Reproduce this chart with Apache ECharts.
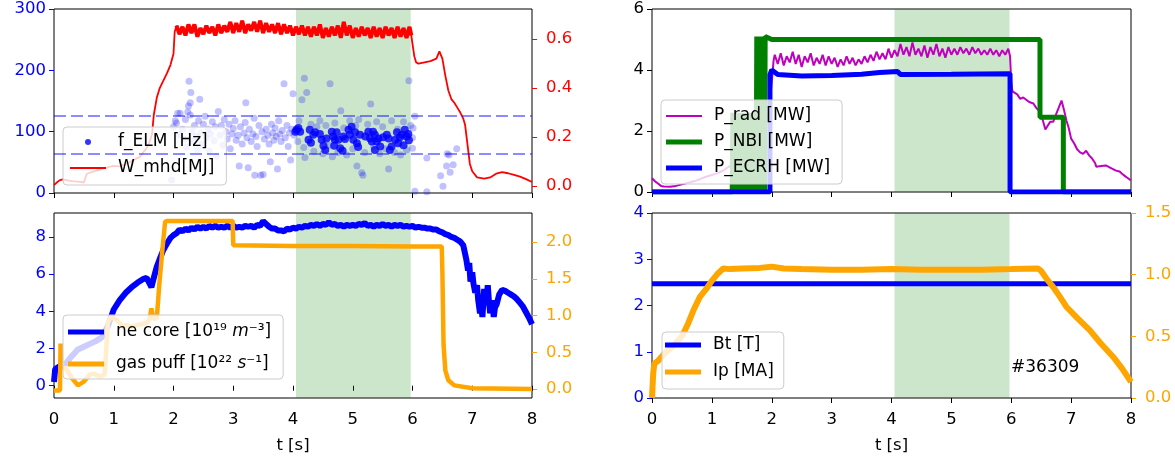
<!DOCTYPE html>
<html><head><meta charset="utf-8">
<script src="https://cdn.jsdelivr.net/npm/echarts@6/dist/echarts.min.js"></script>
<style>html,body{margin:0;padding:0;background:#fff}#c{width:1175px;height:459px}</style>
</head><body><div id="c"></div><script>
// ---------- data ----------
const tTicks = [0,1,2,3,4,5,6,7,8];
const windowSpan = [4.05, 5.97];
const wFlatTop = [2.03, 5.99];
const shotLabel = '#36309';
const tlLeftTicks = [0,100,200,300];
const tlRightTicks = [0,0.2,0.4,0.6];
const blLeftTicks = [0,2,4,6,8];
const blRightTicks = [0,0.5,1,1.5,2];
const trLeftTicks = [0,2,4,6];
const brLeftTicks = [0,1,2,3,4];
const brRightTicks = [0,0.5,1,1.5];
const elmBand = [64, 126];

const felmAll = [[1.97,21],[2.0,108],[2.03,118],[2.05,114],[2.07,130],[2.1,95],[2.11,130],[2.15,104],[2.18,88],[2.2,120],[2.22,75],[2.24,132],[2.25,142],[2.26,182],[2.28,127],[2.28,147],[2.29,164],[2.31,100],[2.33,84],[2.35,110],[2.38,92],[2.4,70],[2.42,118],[2.44,153],[2.46,98],[2.48,80],[2.5,112],[2.53,125],[2.55,90],[2.58,104],[2.6,68],[2.62,96],[2.65,116],[2.68,85],[2.7,108],[2.72,60],[2.75,133],[2.78,94],[2.8,110],[2.83,78],[2.85,120],[2.88,100],[2.9,88],[2.93,112],[2.95,72],[2.98,96],[3.0,105],[3.03,118],[3.05,86],[3.08,94],[3.1,44],[3.12,108],[3.15,80],[3.18,98],[3.2,115],[3.21,147],[3.23,90],[3.25,41],[3.27,104],[3.3,84],[3.33,96],[3.35,122],[3.36,29],[3.38,92],[3.4,76],[3.43,110],[3.46,29],[3.48,100],[3.5,30],[3.52,88],[3.55,104],[3.58,94],[3.6,80],[3.62,51],[3.64,112],[3.66,98],[3.68,86],[3.7,106],[3.72,92],[3.74,39],[3.76,118],[3.78,96],[3.8,84],[3.82,102],[3.85,178],[3.87,90],[3.9,110],[3.92,76],[3.94,98],[3.96,54],[3.98,104],[4.0,162],[4.02,94],[4.08,84],[4.1,118],[4.15,152],[4.18,74],[4.19,187],[4.2,58],[4.23,164],[4.3,112],[4.35,68],[4.4,108],[4.45,118],[4.5,64],[4.55,110],[4.6,78],[4.62,178],[4.66,59],[4.7,114],[4.75,66],[4.8,134],[4.85,106],[4.9,62],[4.95,118],[5.0,72],[5.05,110],[5.07,44],[5.1,120],[5.15,33],[5.17,29],[5.2,66],[5.25,112],[5.3,145],[5.35,76],[5.4,116],[5.45,64],[5.5,108],[5.55,72],[5.6,39],[5.65,118],[5.7,66],[5.75,104],[5.8,62],[5.85,116],[5.9,70],[5.94,183],[5.97,110],[6.0,90],[6.0,73],[6.01,106],[6.04,125],[6.04,3],[6.24,57],[6.24,2],[6.47,28],[6.51,11],[6.57,44],[6.58,64],[6.61,62],[6.63,34],[6.68,46],[6.74,72]];

const felmWindow = [[4.06,103],[4.09,106],[4.04,100],[4.12,100],[4.28,103],[4.34,95],[4.26,87],[4.30,82],[4.37,99],[4.45,96],[4.48,87],[4.51,77],[4.54,70],[4.56,89],[4.65,100],[4.67,92],[4.70,87],[4.69,77],[4.73,99],[4.76,87],[4.79,73],[4.83,69],[4.84,92],[4.87,88],[4.93,103],[4.95,95],[4.98,108],[5.01,87],[5.04,99],[5.07,81],[5.09,75],[5.12,95],[5.21,92],[5.26,100],[5.29,89],[5.32,84],[5.34,100],[5.37,95],[5.37,70],[5.40,84],[5.43,89],[5.46,76],[5.51,91],[5.57,95],[5.60,89],[5.62,70],[5.65,76],[5.71,87],[5.74,99],[5.76,81],[5.79,91],[5.82,95],[5.85,78],[5.87,103],[5.90,92],[5.93,96],[5.94,86]];

const wmhd = [[0,0.004],[0.05,0.015],[0.1,0.024],[0.15,0.027],[0.21,0.024],[0.3,0.02],[0.44,0.017],[0.5,0.014],[0.55,0.05],[0.77,0.068],[0.99,0.082],[1.1,0.08],[1.22,0.092],[1.44,0.12],[1.55,0.155],[1.6,0.18],[1.64,0.21],[1.67,0.29],[1.72,0.36],[1.77,0.4],[1.83,0.43],[1.89,0.46],[1.95,0.495],[2.0,0.54],[2.02,0.63],
[2.05,0.655],[2.10,0.62],[2.15,0.65],[2.20,0.615],[2.25,0.66],[2.30,0.625],[2.35,0.66],[2.40,0.61],[2.45,0.645],[2.50,0.62],[2.55,0.655],[2.60,0.625],[2.65,0.65],[2.70,0.615],[2.75,0.66],[2.80,0.625],[2.85,0.655],[2.90,0.63],[2.95,0.67],[3.00,0.625],[3.05,0.665],[3.10,0.63],[3.15,0.675],[3.20,0.625],[3.25,0.66],[3.30,0.635],[3.35,0.67],[3.40,0.63],[3.45,0.675],[3.50,0.625],[3.55,0.665],[3.60,0.63],[3.65,0.66],[3.70,0.625],[3.75,0.665],[3.80,0.62],[3.85,0.66],[3.90,0.625],[3.95,0.655],[4.00,0.615],[4.05,0.65],[4.10,0.62],[4.15,0.655],[4.20,0.615],[4.25,0.65],[4.30,0.61],[4.35,0.65],[4.40,0.615],[4.45,0.66],[4.50,0.605],[4.55,0.645],[4.60,0.61],[4.65,0.65],[4.70,0.615],[4.75,0.655],[4.80,0.605],[4.85,0.67],[4.90,0.615],[4.95,0.655],[5.00,0.605],[5.05,0.645],[5.10,0.61],[5.15,0.65],[5.20,0.615],[5.25,0.645],[5.30,0.605],[5.35,0.65],[5.40,0.61],[5.45,0.645],[5.50,0.605],[5.55,0.65],[5.60,0.615],[5.65,0.645],[5.70,0.605],[5.75,0.65],[5.80,0.61],[5.85,0.645],[5.90,0.605],[5.95,0.65],[5.98,0.615],
[6.0,0.58],[6.03,0.53],[6.06,0.505],[6.1,0.5],[6.2,0.505],[6.3,0.51],[6.4,0.52],[6.45,0.55],[6.5,0.52],[6.55,0.45],[6.6,0.39],[6.65,0.355],[6.7,0.34],[6.75,0.32],[6.8,0.3],[6.85,0.275],[6.88,0.25],[6.92,0.17],[6.96,0.09],[7.0,0.06],[7.08,0.035],[7.2,0.03],[7.3,0.035],[7.4,0.05],[7.5,0.057],[7.6,0.052],[7.7,0.045],[7.8,0.038],[7.9,0.028],[8.0,0.016]];

const neCore = [[0,0.2],[0.02,0.9],[0.05,1.0],[0.1,1.05],[0.2,1.2],[0.3,1.6],[0.4,1.95],[0.5,2.1],[0.6,2.25],[0.7,2.4],[0.8,2.6],[0.9,3.2],[1.0,4.1],[1.1,4.6],[1.2,5.0],[1.3,5.3],[1.4,5.55],[1.5,5.75],[1.55,5.8],[1.6,5.5],[1.63,5.3],[1.67,5.8],[1.72,6.4],[1.78,6.9],[1.83,7.3],[1.9,7.7],[1.95,7.95],[2.0,8.1],[2.05,8.2],
[2.10,8.4],[2.15,8.3],[2.20,8.45],[2.25,8.35],[2.30,8.5],[2.35,8.4],[2.40,8.55],[2.45,8.45],[2.50,8.55],[2.55,8.45],[2.60,8.6],[2.65,8.5],[2.70,8.6],[2.75,8.5],[2.80,8.55],[2.85,8.5],[2.90,8.6],[2.95,8.5],[3.00,8.6],[3.05,8.5],[3.10,8.55],[3.15,8.5],[3.20,8.6],[3.25,8.55],[3.30,8.6],[3.35,8.5],[3.40,8.65],[3.45,8.6],[3.50,8.85],[3.55,8.7],[3.60,8.55],[3.65,8.45],[3.70,8.45],[3.75,8.35],[3.80,8.35],[3.85,8.3],[3.90,8.45],[3.95,8.4],[4.00,8.5],[4.05,8.45],[4.10,8.55],[4.15,8.5],[4.20,8.6],[4.25,8.55],[4.30,8.65],[4.35,8.6],[4.40,8.7],[4.45,8.6],[4.50,8.7],[4.55,8.65],[4.60,8.8],[4.65,8.65],[4.70,8.7],[4.75,8.6],[4.80,8.65],[4.85,8.55],[4.90,8.65],[4.95,8.6],[5.00,8.65],[5.05,8.6],[5.10,8.7],[5.15,8.65],[5.20,8.75],[5.25,8.6],[5.30,8.65],[5.35,8.55],[5.40,8.65],[5.45,8.6],[5.50,8.7],[5.55,8.6],[5.60,8.65],[5.65,8.55],[5.70,8.65],[5.75,8.6],[5.80,8.65],[5.85,8.55],[5.90,8.6],[5.95,8.55],[6.00,8.6],[6.05,8.5],[6.10,8.55],[6.15,8.5],[6.20,8.5],[6.25,8.45],[6.30,8.45],[6.35,8.4],[6.40,8.4],[6.45,8.3],[6.50,8.25],[6.55,8.15],[6.60,8.1],[6.65,8.0],[6.70,7.95],[6.75,7.85],[6.80,7.75],[6.85,7.55],[6.88,7.6],[6.90,6.8],[6.93,6.2],[6.95,6.6],[6.97,5.6],[7.0,6.1],[7.02,5.5],[7.05,5.0],[7.08,5.4],[7.1,4.6],[7.13,3.9],[7.15,4.3],[7.17,3.7],[7.2,5.2],[7.23,4.4],[7.26,5.4],[7.28,4.5],[7.3,3.9],[7.33,4.6],[7.36,3.7],[7.38,4.2],[7.41,4.4],[7.45,4.9],[7.5,5.15],[7.55,5.1],[7.6,5.0],[7.65,4.9],[7.7,4.8],[7.75,4.65],[7.8,4.45],[7.85,4.25],[7.9,3.95],[7.95,3.65],[8.0,3.3]];

const gasPuff = [[0,-0.02],[0.1,-0.02],[0.11,0.62],[0.12,0.62],[0.13,0.3],[0.2,0.28],[0.3,0.15],[0.4,0.05],[0.5,0.1],[0.6,0.2],[0.66,0.21],[0.77,0.17],[0.85,0.2],[0.9,0.9],[0.95,0.98],[1.05,0.94],[1.15,0.85],[1.22,0.87],[1.3,0.85],[1.44,0.88],[1.55,0.9],[1.6,0.95],[1.63,1.1],[1.66,0.96],[1.72,0.96],[1.76,1.4],[1.82,1.95],[1.86,2.28],[1.9,2.29],[2.5,2.29],[2.99,2.29],[3.0,1.96],[4.0,1.95],[5.0,1.95],[6.0,1.94],[6.49,1.94],[6.5,1.6],[6.52,0.6],[6.55,0.25],[6.6,0.12],[6.7,0.05],[7.0,0.01],[8.0,0.0]];

const pRad = [[0,0.45],[0.05,0.35],[0.1,0.28],[0.15,0.2],[0.2,0.18],[0.3,0.17],[0.4,0.2],[0.5,0.25],[0.6,0.3],[0.7,0.35],[0.8,0.42],[0.9,0.5],[1.0,0.56],[1.1,0.62],[1.2,0.72],[1.3,0.85],[1.4,1.0],[1.5,1.2],[1.6,1.4],[1.7,1.65],[1.8,1.95],[1.9,2.3],[1.95,2.6],[2.0,3.6],[2.03,4.3],
[2.05,4.5],[2.10,4.2],[2.15,4.55],[2.20,4.15],[2.25,4.45],[2.30,4.25],[2.35,4.6],[2.40,4.2],[2.45,4.5],[2.50,4.1],[2.55,4.45],[2.60,4.25],[2.65,4.55],[2.70,4.15],[2.75,4.4],[2.80,4.2],[2.85,4.5],[2.90,4.15],[2.95,4.45],[3.00,4.2],[3.05,4.4],[3.10,4.1],[3.15,4.35],[3.20,4.15],[3.25,4.45],[3.30,4.2],[3.35,4.4],[3.40,4.15],[3.45,4.35],[3.50,4.2],[3.55,4.45],[3.60,4.25],[3.65,4.5],[3.70,4.3],[3.75,4.6],[3.80,4.35],[3.85,4.55],[3.90,4.35],[3.95,4.7],[4.00,4.4],[4.05,4.65],[4.10,4.45],[4.15,4.85],[4.20,4.5],[4.25,4.75],[4.30,4.45],[4.35,4.9],[4.40,4.5],[4.45,4.7],[4.50,4.45],[4.55,4.8],[4.60,4.4],[4.65,4.75],[4.70,4.5],[4.75,4.85],[4.80,4.45],[4.85,4.7],[4.90,4.4],[4.95,4.75],[5.00,4.5],[5.05,4.7],[5.10,4.5],[5.15,4.75],[5.20,4.55],[5.25,4.7],[5.30,4.5],[5.35,4.75],[5.40,4.55],[5.45,4.7],[5.50,4.5],[5.55,4.65],[5.60,4.5],[5.65,4.7],[5.70,4.5],[5.75,4.65],[5.80,4.45],[5.85,4.65],[5.90,4.5],[5.95,4.7],[5.98,4.45],
[6.0,3.6],[6.02,3.3],[6.1,3.2],[6.15,3.05],[6.2,3.1],[6.3,2.95],[6.37,2.9],[6.42,2.75],[6.47,2.65],[6.52,2.4],[6.57,2.05],[6.6,2.15],[6.65,2.3],[6.7,2.3],[6.75,2.55],[6.8,2.8],[6.84,3.0],[6.88,2.7],[6.92,2.35],[6.96,2.1],[7.0,1.75],[7.05,1.6],[7.1,1.4],[7.15,1.3],[7.2,1.25],[7.25,1.35],[7.3,1.2],[7.35,1.1],[7.4,0.95],[7.42,0.83],[7.5,0.85],[7.58,0.87],[7.65,0.8],[7.7,0.75],[7.75,0.7],[7.81,0.67],[7.85,0.6],[7.9,0.52],[7.95,0.45],[8.0,0.38]];

const pNbi = [[0,0],[1.34,0],[1.35,2.6],[1.36,0],[1.37,2.6],[1.38,0],[1.39,2.6],[1.40,0],[1.41,2.6],[1.42,0],[1.43,2.6],[1.44,0],[1.45,2.6],[1.46,0],[1.47,2.6],[1.48,0],[1.49,2.6],[1.50,0],[1.51,2.6],[1.52,0],[1.53,2.6],[1.54,0],[1.55,2.6],[1.56,0],[1.57,2.6],[1.58,0],[1.59,2.6],[1.60,0],[1.61,2.6],[1.62,0],[1.63,2.6],[1.64,0],[1.65,2.6],[1.66,0],[1.67,2.6],[1.68,0],[1.69,2.6],[1.70,0],[1.71,2.6],[1.72,0],[1.73,2.6],[1.74,0],[1.75,5.1],[1.76,0],[1.77,5.1],[1.78,0],[1.79,5.1],[1.80,0],[1.81,5.1],[1.82,0],[1.83,5.1],[1.84,0],[1.85,5.1],[1.86,0],[1.87,5.1],[1.88,0],[1.89,5.1],[1.9,5.05],[2.0,5.0],[6.48,5.0],[6.48,2.45],[6.87,2.45],[6.87,0],[8,0]];

const pEcrh = [[0,0],[1.97,0],[1.97,3.85],[2.0,4.0],[2.1,3.85],[2.5,3.8],[3.0,3.82],[3.5,3.86],[3.8,3.92],[4.1,3.95],[4.15,3.85],[5.0,3.86],[5.98,3.88],[5.98,0],[8,0]];

const bt = [[0,2.47],[8,2.47]];

const ip = [[0,0],[0.02,0.2],[0.04,0.28],[0.1,0.3],[0.15,0.33],[0.25,0.38],[0.35,0.42],[0.5,0.5],[0.6,0.6],[0.7,0.72],[0.8,0.82],[0.9,0.88],[1.0,0.95],[1.1,1.01],[1.19,1.05],[1.3,1.045],[1.5,1.05],[1.8,1.055],[2.0,1.065],[2.2,1.05],[2.5,1.045],[3.0,1.04],[3.5,1.04],[4.0,1.045],[4.5,1.04],[5.0,1.04],[5.5,1.04],[6.0,1.045],[6.45,1.05],[6.5,1.03],[6.6,0.96],[6.7,0.9],[6.8,0.83],[6.92,0.74],[7.1,0.65],[7.31,0.55],[7.5,0.44],[7.7,0.335],[7.85,0.24],[8.0,0.13]];

// ---------- chart ----------
const FONT = 'DejaVu Sans';
const FS = 16.5;
const LFS = 17;
const BLUE = '#0000ff', RED = '#ff0000', ORANGE = '#ffa500', GREEN = '#008000', MAG = '#bf00bf';
const iconThick = 'path://M0,0H36V5H0Z';
const iconThin = 'path://M0,0H36V1.8H0Z';

function xAx(gi, showLabels) {
  return {type:'value', gridIndex:gi, min:0, max:8, interval:1,
    axisLine:{show:false},
    axisTick:{show:true, length:5, lineStyle:{color:'#000'}, customValues:tTicks},
    axisLabel:{show:showLabels, color:'#000', fontSize:FS, fontFamily:FONT, margin:13, customValues:tTicks},
    splitLine:{show:false},
    name: showLabels ? 't [s]' : '', nameLocation:'middle', nameGap:39,
    nameTextStyle:{color:'#000', fontSize:FS, fontFamily:FONT}};
}
function yAx(gi, pos, min, max, color, ticks, digits) {
  return {type:'value', gridIndex:gi, position:pos, min:min, max:max,
    axisLine:{show:false},
    axisTick:{show:true, length:5, lineStyle:{color:color}, customValues:ticks},
    axisLabel:{color:color, fontSize:FS, fontFamily:FONT, margin: pos==='left'?8:14, customValues:ticks,
      formatter: v => Number(v).toFixed(digits)},
    splitLine:{show:false}};
}
function shade(xi, yi) {
  return {type:'line', xAxisIndex:xi, yAxisIndex:yi, data:[], z:1, silent:true,
    markArea:{silent:true, itemStyle:{color:'rgba(0,128,0,0.2)'},
      data:[[{xAxis:windowSpan[0]},{xAxis:windowSpan[1]}]]}};
}
function legendBox(items, left, top, padding, gap, extra) {
  return Object.assign({show:true, orient:'vertical', left:left, top:top, data:items,
    itemWidth:36, itemHeight:6, itemGap:gap, padding:padding,
    backgroundColor:'rgba(255,255,255,0.8)', borderColor:'#cccccc', borderWidth:1, borderRadius:4,
    itemStyle:{borderWidth:0},
    textStyle:{color:'#000', fontSize:LFS, fontFamily:FONT, padding:[0,0,0,7], lineHeight:18},
    selectedMode:false}, extra||{});
}
const gridBase = {show:true, borderColor:'#000', borderWidth:1, backgroundColor:'transparent', containLabel:false, outerBoundsMode:'none'};

const option = {
  animation:false,
  backgroundColor:'#fff',
  grid:[
    Object.assign({left:54, top:9, width:478, height:184}, gridBase),
    Object.assign({left:54, top:213, width:478, height:185}, gridBase),
    Object.assign({left:652, top:9, width:479, height:183}, gridBase),
    Object.assign({left:652, top:213, width:479, height:185}, gridBase)
  ],
  xAxis:[xAx(0,false), xAx(1,true), xAx(2,false), xAx(3,true)],
  yAxis:[
    yAx(0,'left',0,300,BLUE,tlLeftTicks,0),
    yAx(0,'right',-0.0287,0.723,RED,tlRightTicks,1),
    yAx(1,'left',-0.66,9.29,BLUE,blLeftTicks,0),
    yAx(1,'right',-0.122,2.398,ORANGE,blRightTicks,1),
    yAx(2,'left',0,6,'#000',trLeftTicks,0),
    yAx(3,'left',0,4,BLUE,brLeftTicks,0),
    yAx(3,'right',0,1.5,ORANGE,brRightTicks,1)
  ],
  legend:[
    legendBox([{name:'f_ELM [Hz]', icon:'circle'},{name:'W_mhd[MJ]', icon:iconThin}], 63, 127, [6,12,8,7], 8),
    legendBox([{name:'ne core', icon:iconThick},{name:'gas puff', icon:iconThick}], 63, 315, [5,12,3,5], 8, {
      formatter: n => n==='ne core' ? '{a|ne core [10¹⁹ }{i|m}{a|⁻³]}' : '{a|gas puff [10²² }{i|s}{a|⁻¹]}',
      textStyle:{color:'#000', fontSize:LFS, fontFamily:FONT, padding:[0,0,0,7], lineHeight:24,
        rich:{a:{fontSize:LFS, fontFamily:FONT, color:'#000', lineHeight:24}, i:{fontSize:LFS, fontFamily:FONT, fontStyle:'italic', color:'#000', lineHeight:24}}}
    }),
    legendBox([{name:'P_rad [MW]', icon:iconThin},{name:'P_NBI [MW]', icon:iconThick},{name:'P_ECRH [MW]', icon:iconThick}], 661, 100, [7,12,7,5], 8),
    legendBox([{name:'Bt [T]', icon:iconThick},{name:'Ip [MA]', icon:iconThick}], 662, 332, [4,10,8,3], 9)
  ],
  graphic:[{type:'text', left:1011, top:359, style:{text:shotLabel, fill:'#000', font:'17px "DejaVu Sans"'}}],
  series:[
    shade(0,0), shade(1,2), shade(2,4), shade(3,5),
    {name:'f_ELM all', type:'scatter', xAxisIndex:0, yAxisIndex:0, data:felmAll, symbolSize:7,
      itemStyle:{color:'rgba(0,0,255,0.3)'}, z:2,
      markLine:{silent:true, symbol:'none', label:{show:false},
        lineStyle:{color:'rgba(0,0,255,0.6)', type:[12,5], width:1.5},
        data:[{yAxis:elmBand[0]},{yAxis:elmBand[1]}]}},
    {name:'f_ELM [Hz]', type:'scatter', xAxisIndex:0, yAxisIndex:0, data:felmWindow, symbolSize:8,
      itemStyle:{color:BLUE}, z:2},
    {name:'W_mhd[MJ]', type:'line', xAxisIndex:0, yAxisIndex:1, data:wmhd, symbol:'none',
      lineStyle:{color:RED, width:1.8}, itemStyle:{color:RED}, z:3},
    {name:'W_mhd flat-top', type:'line', xAxisIndex:0, yAxisIndex:1, symbol:'none', silent:true,
      data:wmhd.filter(p => p[0] >= wFlatTop[0] && p[0] <= wFlatTop[1]),
      lineStyle:{color:RED, width:4}, itemStyle:{color:RED}, z:3},
    {name:'ne core', type:'line', xAxisIndex:1, yAxisIndex:2, data:neCore, symbol:'none',
      lineStyle:{color:BLUE, width:6}, itemStyle:{color:BLUE}, z:2},
    {name:'gas puff', type:'line', xAxisIndex:1, yAxisIndex:3, data:gasPuff, symbol:'none',
      lineStyle:{color:ORANGE, width:4.5}, itemStyle:{color:ORANGE}, z:3},
    {name:'P_rad [MW]', type:'line', xAxisIndex:2, yAxisIndex:4, data:pRad, symbol:'none',
      lineStyle:{color:MAG, width:2}, itemStyle:{color:MAG}, z:2},
    {name:'P_NBI [MW]', type:'line', xAxisIndex:2, yAxisIndex:4, data:pNbi, symbol:'none',
      lineStyle:{color:GREEN, width:5}, itemStyle:{color:GREEN}, z:2},
    {name:'P_ECRH [MW]', type:'line', xAxisIndex:2, yAxisIndex:4, data:pEcrh, symbol:'none',
      lineStyle:{color:BLUE, width:5}, itemStyle:{color:BLUE}, z:2},
    {name:'Bt [T]', type:'line', xAxisIndex:3, yAxisIndex:5, data:bt, symbol:'none',
      lineStyle:{color:BLUE, width:5}, itemStyle:{color:BLUE}, z:2},
    {name:'Ip [MA]', type:'line', xAxisIndex:3, yAxisIndex:6, data:ip, symbol:'none',
      lineStyle:{color:ORANGE, width:6}, itemStyle:{color:ORANGE}, z:3}
  ]
};
const chart = echarts.init(document.getElementById('c'), null, {renderer:'canvas'});
chart.setOption(option);
</script></body></html>
